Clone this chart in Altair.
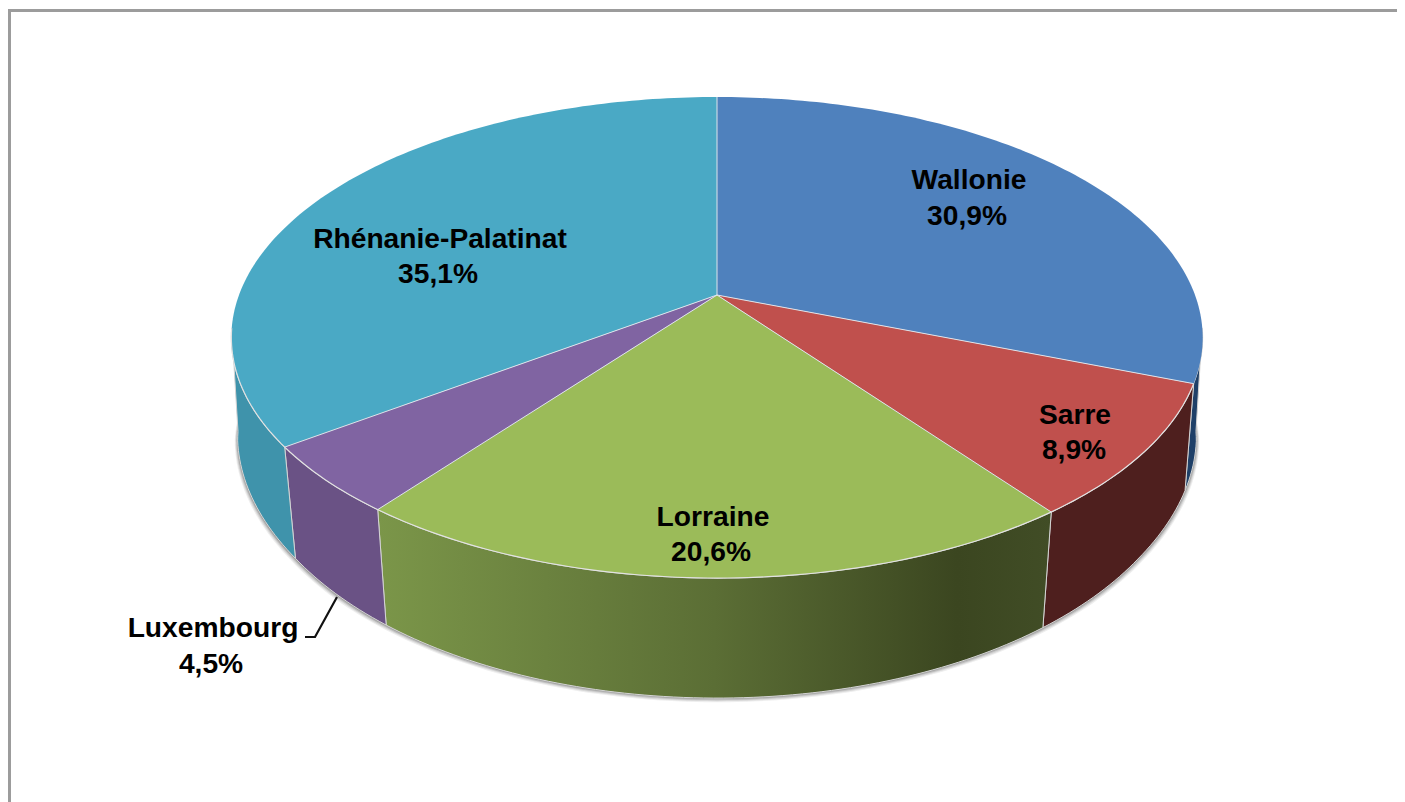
import math
import altair as alt
import pandas as pd

# ---- chart values ----
categories = ["Wallonie", "Sarre", "Lorraine", "Luxembourg", "Rhénanie-Palatinat"]
share_labels = ["30,9%", "8,9%", "20,6%", "4,5%", "35,1%"]
# share of the turn each slice occupies as drawn in the picture (percent)
drawn_shares = [30.8, 8.95, 20.7, 4.6, 34.95]
top_colors = ["#4f81bd", "#c0504d", "#9bbb59", "#8064a2", "#4aa9c5"]
side_colors = ["#1f4068", "#4e1f1e", None, "#6a5285", "#3f93ab"]

name_x = [969, 1075, 713, 213, 440]
name_y = [181, 416, 518, 629, 240]
pct_x = [967, 1074, 711, 211, 438]
pct_y = [217, 451, 553, 665, 275]

leader_x = [305, 315, 337]
leader_y = [637, 637, 597]
frame_x = [9.5, 9.5, 1397]
frame_y = [802, 10.5, 10.5]

# ---- perspective of the tilted disc ----
CX, CY, RX, RY, K = 717, 295, 478, 233, 0.1768
Y_GROW, Y_SHIFT = 1.067, 81.3
FONT = "Liberation Sans"
FONT_SIZE = 28.2

x_scale = alt.Scale(domain=[8, 1397], nice=False, zero=False)
y_scale = alt.Scale(domain=[802, 8], nice=False, zero=False)


def top(t):
    a = math.radians(t)
    d = 1 + K * math.cos(a)
    return CX + RX * math.sin(a) / d, CY - RY * math.cos(a) / d


def bottom(t, grow=0.0):
    x, y = top(t)
    shrink = 0.975 + 0.012 * min(1.0, max(0.0, (448 - y) / 111))
    bx = CX + shrink * (x - CX)
    by = Y_GROW * y + Y_SHIFT
    return CX + (bx - CX) * (1 + grow), 440 + (by - 440) * (1 + grow)


def arc_range(a, b):
    n = max(2, int(abs(b - a)))
    return [a + (b - a) * i / n for i in range(n + 1)]


def xy_chart(points):
    df = pd.DataFrame({"x": [p[0] for p in points],
                       "y": [p[1] for p in points],
                       "i": range(len(points))})
    return alt.Chart(df)


def enc(chart):
    return chart.encode(
        x=alt.X("x:Q", scale=x_scale, axis=None),
        y=alt.Y("y:Q", scale=y_scale, axis=None),
        order="i:Q",
    )


def poly(points, **mark):
    return enc(xy_chart(list(points) + [points[0]]).mark_line(**mark))


def path(points, **mark):
    return enc(xy_chart(points).mark_line(**mark))


edges = [0.0]
for s in drawn_shares:
    edges.append(edges[-1] + s * 3.6)

layers = []

# soft shadow below the rim, fading out towards the sides
SH_A, SH_B = 92, 268
for g, op in [(0.016, 0.10), (0.012, 0.14), (0.008, 0.20), (0.004, 0.30)]:
    pts = [bottom(t, g * math.sin(math.pi * (t - SH_A) / (SH_B - SH_A)) ** 0.5)
           for t in arc_range(SH_A, SH_B)]
    layers.append(poly(pts, fill="#555555", fillOpacity=op, strokeOpacity=0, strokeWidth=0))

# rim walls
lorraine_gradient = alt.Gradient(
    gradient="linear", x1=0, x2=1, y1=0, y2=0,
    stops=[alt.GradientStop(offset=0, color="#7b9649"),
           alt.GradientStop(offset=0.5, color="#5b6e35"),
           alt.GradientStop(offset=0.86, color="#3b4620"),
           alt.GradientStop(offset=1, color="#414d26")],
)
for i in range(5):
    a, b = edges[i], edges[i + 1]
    if i == 0:
        a = 98
    if i == 4:
        b = 262
    rng = arc_range(a, b)
    pts = [top(t) for t in rng] + [bottom(t) for t in reversed(rng)]
    fill = lorraine_gradient if side_colors[i] is None else side_colors[i]
    layers.append(poly(pts, fill=fill, stroke="#d4d4d4", strokeWidth=1))

# upper faces
for i in range(5):
    pts = [(CX, CY)] + [top(t) for t in arc_range(edges[i], edges[i + 1])]
    layers.append(poly(pts, fill=top_colors[i], strokeWidth=0, strokeOpacity=0))

# thin pale lines between slices and along the front rim
for e in edges[:5]:
    layers.append(path([(CX, CY), top(e)], stroke="#dde3ea", strokeWidth=1))
layers.append(path([top(t) for t in arc_range(edges[1], 262)],
                   stroke="#e2e2e2", strokeWidth=1.2))

# frame and leader
layers.append(path(list(zip(frame_x, frame_y)), stroke="#9c9c9c", strokeWidth=3))
layers.append(path(list(zip(leader_x, leader_y)), stroke="#111111", strokeWidth=2.2))

# labels
labels = pd.DataFrame({
    "x": name_x + pct_x,
    "y": name_y + pct_y,
    "t": categories + share_labels,
})
layers.append(alt.Chart(labels)
              .mark_text(font=FONT, fontSize=FONT_SIZE, fontWeight="bold",
                         color="#000000", align="center", baseline="middle")
              .encode(x=alt.X("x:Q", scale=x_scale, axis=None),
                      y=alt.Y("y:Q", scale=y_scale, axis=None), text="t:N"))

chart = (alt.layer(*layers)
         .properties(width=1389, height=794, background="white",
                     padding={"left": 0, "right": 0, "top": 0, "bottom": 0},
                     autosize=alt.AutoSizeParams(type="none", contains="padding"))
         .configure_view(stroke=None))

chart.save("out.html", embed_options={"renderer": "svg", "actions": False})
